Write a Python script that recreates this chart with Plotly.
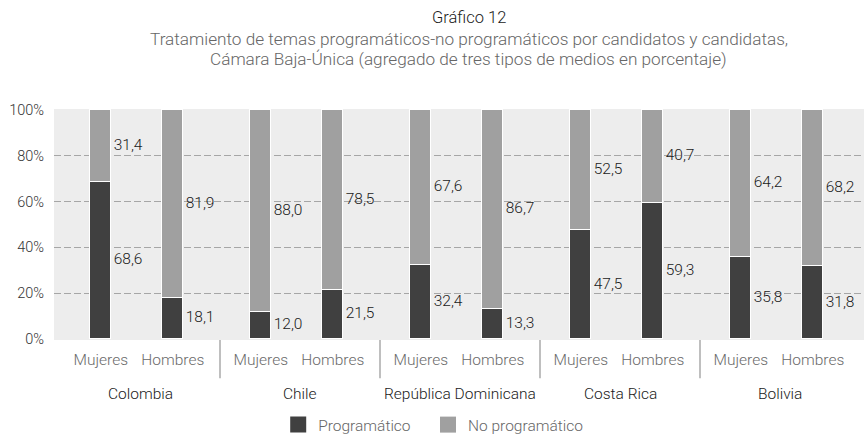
import plotly.graph_objects as go

countries = ["Colombia", "Chile", "República Dominicana", "Costa Rica", "Bolivia"]
genders = ["Mujeres", "Hombres"]
programatico = [68.6, 18.1, 12.0, 21.5, 32.4, 13.3, 47.5, 59.3, 35.8, 31.8]
no_programatico = [31.4, 81.9, 88.0, 78.5, 67.6, 86.7, 52.5, 40.7, 64.2, 68.2]
series_names = ["Programático", "No programático"]
y_ticks = [0, 20, 40, 60, 80, 100]
y_tick_text = ["0%", "20%", "40%", "60%", "80%", "100%"]

FONT = "Roboto"
DARK = "#404040"
LIGHT = "#a0a0a0"
BAR_W = 0.2625
GENDER_OFF = [0.01, 0.91]
PAD = 0.4  # y-range padding so edge gridlines are drawn

xs = []
tick_text = []
for i, c in enumerate(countries):
    for j, g in enumerate(genders):
        xs.append(2 * i + GENDER_OFF[j])
        tick_text.append(g)

def fmt(v):
    return f"{v:.1f}".replace(".", ",")

fig = go.Figure()
fig.add_bar(x=xs, y=programatico, width=BAR_W, name=series_names[0],
            marker=dict(color=DARK, line=dict(color="white", width=1.5)),
            showlegend=False, hoverinfo="skip")
fig.add_bar(x=xs, y=no_programatico, width=BAR_W, name=series_names[1],
            marker=dict(color=LIGHT, line=dict(color="white", width=1.5)),
            showlegend=False, hoverinfo="skip")

lx = [x + BAR_W / 2 + 0.03 for x in xs]
label_font = dict(family=FONT, size=15.5, color="#1a1a1a", weight=300)
fig.add_scatter(x=lx, y=[p / 2 for p in programatico], mode="text",
                text=[fmt(v) for v in programatico], textposition="middle right",
                textfont=label_font, showlegend=False, hoverinfo="skip")
fig.add_scatter(x=lx, y=[p + n / 2 for p, n in zip(programatico, no_programatico)],
                mode="text", text=[fmt(v) for v in no_programatico],
                textposition="middle right",
                textfont=label_font, showlegend=False, hoverinfo="skip")

# legend proxies (one legend box per entry for precise placement)
for name, col, lg in zip(series_names, [DARK, LIGHT], ["legend", "legend2"]):
    fig.add_scatter(x=[None], y=[None], mode="markers", name=name, legend=lg,
                    marker=dict(symbol="square", size=16, color=col))

# country labels and dividers
for i, c in enumerate(countries):
    fig.add_annotation(x=2 * i + 0.5, y=0, xref="x", yref="paper", text=c,
                       showarrow=False, yanchor="middle", yshift=-54,
                       font=dict(family=FONT, size=15.5, color="#1a1a1a", weight=300))
for i in range(len(countries) - 1):
    fig.add_shape(type="line", x0=2 * i + 1.5, x1=2 * i + 1.5, xref="x",
                  y0=0, y1=-38 / 229, yref="paper",
                  line=dict(color="#aaaaaa", width=1.5))

# titles
fig.add_annotation(x=0.5123, y=1, xref="paper", yref="paper", text="Gráfico 12",
                   showarrow=False, yanchor="middle", yshift=92,
                   font=dict(family=FONT, size=16.5, color="#1a1a1a", weight=300))
fig.add_annotation(x=0.5123, y=1, xref="paper", yref="paper",
                   text="Tratamiento de temas programáticos-no programáticos por candidatos y candidatas,",
                   showarrow=False, yanchor="middle", yshift=70,
                   font=dict(family=FONT, size=17.2, color="#666", weight=300))
fig.add_annotation(x=0.5123, y=1, xref="paper", yref="paper",
                   text="Cámara Baja-Única (agregado de tres tipos de medios en porcentaje)",
                   showarrow=False, yanchor="middle", yshift=50,
                   font=dict(family=FONT, size=17.2, color="#666", weight=300))

legend_common = dict(orientation="h", xref="container", yref="container",
                     xanchor="left", y=0.034, yanchor="middle",
                     font=dict(family=FONT, size=15.5, color="#666", weight=300),
                     bgcolor="rgba(0,0,0,0)")

fig.update_layout(
    width=864, height=440,
    margin=dict(l=54, r=0, t=109, b=100, autoexpand=False),
    barmode="stack",
    bargap=0,
    plot_bgcolor="#ededed",
    paper_bgcolor="white",
    font=dict(family=FONT, weight=300),
    legend=dict(x=0.322, **legend_common),
    legend2=dict(x=0.4954, **legend_common),
    xaxis=dict(range=[-0.575, 9.55], tickvals=xs, ticktext=tick_text,
               showgrid=False, zeroline=False, showline=False, ticks="",
               ticklabelstandoff=8, automargin=False,
               tickfont=dict(family=FONT, size=15.5, color="#6a6a6a", weight=300)),
    yaxis=dict(range=[-PAD, 100 + PAD], tickvals=y_ticks, ticktext=y_tick_text,
               showgrid=True, gridcolor="#a6a6a6", griddash="7px,3px", gridwidth=1,
               zeroline=False, showline=False, ticks="", ticklabelstandoff=9,
               automargin=False,
               tickfont=dict(family=FONT, size=14.5, color="#333", weight=300)),
)

fig.write_html("out.html", config={"displayModeBar": False},
               post_script="document.body.style.margin='0';document.body.style.padding='0';")
